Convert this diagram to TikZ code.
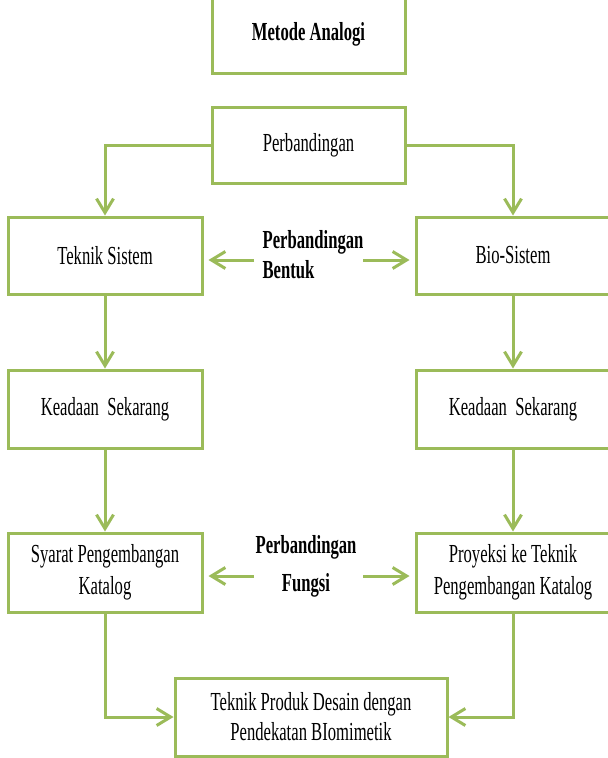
\documentclass[tikz,border=0pt]{standalone}
\usepackage{fontspec}
\setmainfont{Liberation Serif}[FakeStretch=0.64]
\usetikzlibrary{arrows.meta}
\definecolor{lgreen}{HTML}{9BBB59}
\tikzset{
  box/.style={draw=lgreen, line width=3pt, fill=white, inner sep=0pt, align=center, font=\fontsize{26}{31}\selectfont},
  lbl/.style={inner sep=0pt, font=\fontsize{26}{31}\selectfont\bfseries},
  arr/.style={draw=lgreen, line width=3pt, -{Straight Barb[length=14pt,width=17pt,line width=3pt]}},
  ln/.style={draw=lgreen, line width=3pt}
}
\begin{document}
\begin{tikzpicture}[x=1pt,y=-1pt]
\useasboundingbox (0,0) rectangle (608,758);
\node[box, minimum width=193pt, minimum height=78pt, font=\fontsize{26}{31}\selectfont\bfseries] (metode) at (308.5,34) {Metode Analogi};
\node[box, minimum width=193pt, minimum height=76pt] (perb) at (308.5,145) {Perbandingan};
\node[box, minimum width=194pt, minimum height=77pt] (teknik) at (105,255.5) {Teknik Sistem};
\node[box, minimum width=194pt, minimum height=77pt] (bio) at (513,255.5) {Bio-Sistem};
\node[box, minimum width=194pt, minimum height=78pt] (keadL) at (105,409) {Keadaan\ \ Sekarang};
\node[box, minimum width=194pt, minimum height=78pt] (keadR) at (513,409) {Keadaan\ \ Sekarang};
\node[box, minimum width=194pt, minimum height=79pt, font=\fontsize{26}{32}\selectfont] (syarat) at (105,572.5) {Syarat Pengembangan\\Katalog};
\node[box, minimum width=194pt, minimum height=79pt, font=\fontsize{26}{32}\selectfont] (proy) at (513,572.5) {Proyeksi ke Teknik\\Pengembangan Katalog};
\node[box, minimum width=272pt, minimum height=78pt, font=\fontsize{26}{30}\selectfont] (produk) at (311,717) {Teknik Produk Desain dengan\\Pendekatan BIomimetik};
\node[lbl, align=left, font=\fontsize{26}{30}\selectfont\bfseries] (bentuk) at (313,255) {Perbandingan\\Bentuk};
\node[lbl, align=center, font=\fontsize{26}{38}\selectfont\bfseries] (fungsi) at (306,566) {Perbandingan\\Fungsi};
\coordinate (bL) at (254,260);
\coordinate (bR) at (363,260);
\coordinate (fL) at (254,576);
\coordinate (fR) at (363,576);
\draw[arr] (perb.west) -| (teknik.north);
\draw[arr] (perb.east) -| (bio.north);
\draw[arr] (teknik.south) -- (keadL.north);
\draw[arr] (bio.south) -- (keadR.north);
\draw[arr] (keadL.south) -- (syarat.north);
\draw[arr] (keadR.south) -- (proy.north);
\draw[arr] (syarat.south) |- (produk.west);
\draw[arr] (proy.south) |- (produk.east);
\draw[arr, shorten >=5pt] (bL) -- (teknik.east |- bL);
\draw[arr, shorten >=5pt] (bR) -- (bio.west |- bR);
\draw[arr, shorten >=5pt] (fL) -- (syarat.east |- fL);
\draw[arr, shorten >=5pt] (fR) -- (proy.west |- fR);
\end{tikzpicture}
\end{document}
